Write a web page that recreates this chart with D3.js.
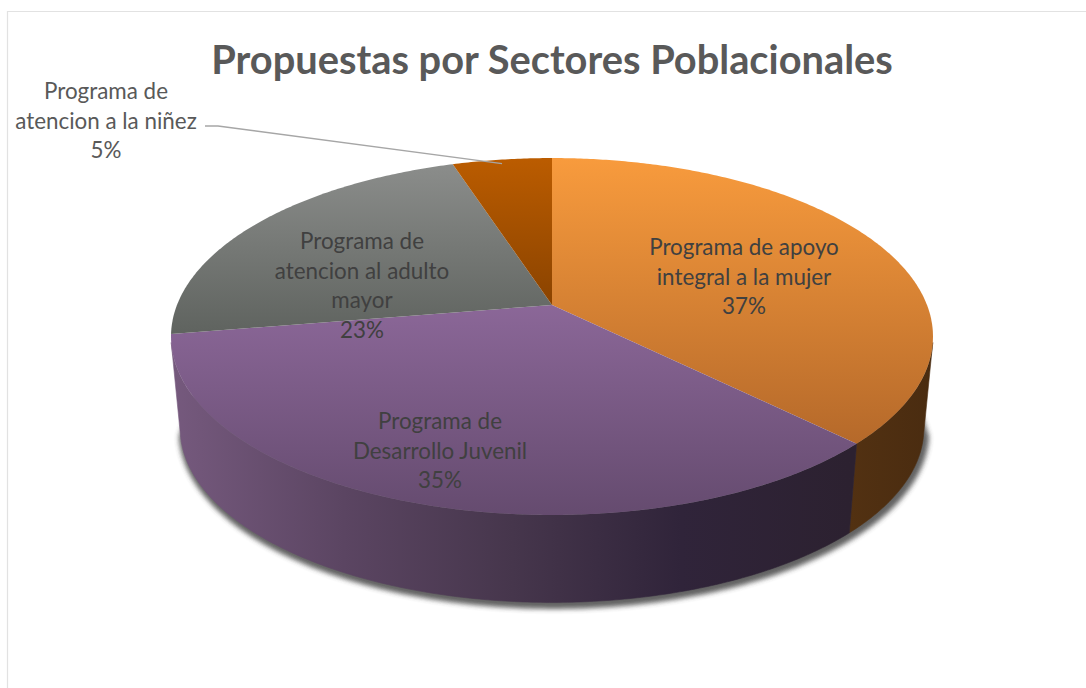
<!DOCTYPE html>
<html><head><meta charset="utf-8">
<script src="https://cdn.jsdelivr.net/npm/d3@7/dist/d3.min.js"></script>
<style>html,body{margin:0;background:#fff}svg{display:block}text{font-family:Lato,Carlito,sans-serif}</style>
</head><body><svg id="c" width="1086" height="688"></svg>
<script>
const titleText = "Propuestas por Sectores Poblacionales";
const categories = ["Programa de apoyo integral a la mujer","Programa de Desarrollo Juvenil","Programa de atencion al adulto mayor","Programa de atencion a la niñez"];
const values = [37.4,35.0,22.6,5.0];
const labelLines = [["Programa de apoyo","integral a la mujer"],["Programa de","Desarrollo Juvenil"],["Programa de","atencion al adulto","mayor"],["Programa de","atencion a la niñez"]];
const topStops = [["#f89b3d","#b5692a"],["#8b6798","#654b6f"],["#8b8d8b","#5f635f"],["#bb5c00","#8a4300"]];
const wallStops = [["#573413","#4a2c10"],["#75597d","#2c2130"],["#666","#555"],["#888","#777"]];
const labelPos = [[744,248],[440,422],[362,242],[106,92]];
const labelColor = ["#404040","#404040","#404040","#595959"];

const svg = d3.select("#c");
const defs = svg.append("defs");
const cx=552, cy=305, B=375, A=172.9, p=0.1765, depth=92.5, shrink=0.976;
const project=(a,low)=>{
  const u=Math.sin(a), w=-Math.cos(a), d=1-p*w;
  const k=low?shrink:1;
  return [cx+k*B*u/d, cy+k*A*w/d+(low?depth:0)];
};
const arcs=d3.pie().sort(null).value(d=>d)(values);
const line=d3.line();
const samples=(a0,a1,low)=>{
  const n=Math.max(2,Math.ceil((a1-a0)/0.01));
  return d3.range(n+1).map(i=>project(a0+(a1-a0)*i/n,low));
};
// frame
svg.append("path").attr("d",line([[7.5,688],[7.5,11.5],[1086,11.5]])).attr("fill","none").attr("stroke","#e2e2e2").attr("stroke-width",1.2);
// gradients
const grad=(id,x1,y1,x2,y2,stops)=>{
  const g=defs.append("linearGradient").attr("id",id).attr("gradientUnits","userSpaceOnUse").attr("x1",x1).attr("y1",y1).attr("x2",x2).attr("y2",y2);
  stops.forEach((c,i)=>g.append("stop").attr("offset",i/(stops.length-1)).attr("stop-color",c));
};
const ext=arcs.map(d=>{
  const pts=[[cx,cy],...samples(d.startAngle,d.endAngle,false)];
  return {pts,y0:d3.min(pts,q=>q[1]),y1:d3.max(pts,q=>q[1])};
});
arcs.forEach((d,i)=>grad("top"+i,0,ext[i].y0,0,ext[i].y1,topStops[i]));
grad("wall0",800,0,930,0,wallStops[0]);
grad("wall1",175,0,850,0,["#75597d","#5b4562","#46364c","#30243a","#2c2130"]);
const f=defs.append("filter").attr("id","blur").attr("x","-10%").attr("y","-10%").attr("width","120%").attr("height","120%");
f.append("feGaussianBlur").attr("stdDeviation",2.8);
// the silhouette of the wall runs between these two angles, where top and lower rim share a tangent
const edge0=Math.PI*0.567, edge1=2*Math.PI-edge0;
// shadow: starts lower down the wall so it stays clear of the top rim
const shade0=Math.PI*0.66, shade1=2*Math.PI-shade0;
svg.append("path").attr("d",line([...samples(shade0,shade1,false),...samples(edge0,edge1,true).reverse()])+"Z").attr("transform","translate(2,3)")
  .attr("fill","#3a3a3a").attr("stroke","#3a3a3a").attr("stroke-width",7).attr("filter","url(#blur)").attr("opacity",.8);
// walls: only the front facing slices are visible
arcs.forEach((d,i)=>{
  const a0=Math.max(d.startAngle,edge0), a1=Math.min(d.endAngle,edge1);
  if(a1<=a0) return;
  const up=samples(a0,a1,false), lo=samples(a0,a1,true).reverse();
  svg.append("path").attr("d",line([...up,...lo])+"Z").attr("fill",`url(#wall${i})`).attr("stroke",`url(#wall${i})`).attr("stroke-width",.6);
});
// tops
arcs.forEach((d,i)=>{
  svg.append("path").attr("d",line(ext[i].pts)+"Z").attr("fill",`url(#top${i})`);
});
// leader
const tip=project((arcs[3].startAngle+arcs[3].endAngle)/2,false);
svg.append("path").attr("d",line([[205,126],[218,126],[tip[0],tip[1]+4]])).attr("fill","none").attr("stroke","#a6a6a6").attr("stroke-width",1.3);
// title
svg.append("text").attr("x",552).attr("y",74).attr("text-anchor","middle").attr("font-size",39.8).attr("font-weight",700).attr("fill","#595959").text(titleText);
// labels
categories.forEach((c,i)=>{
  const lines=[...labelLines[i],Math.round(values[i])+"%"];
  const t=svg.append("text").attr("text-anchor","middle").attr("font-size",22.4).attr("fill",labelColor[i]);
  lines.forEach((l,j)=>t.append("tspan").attr("x",labelPos[i][0]).attr("y",labelPos[i][1]+7+j*29.5).text(l));
});
</script></body></html>
